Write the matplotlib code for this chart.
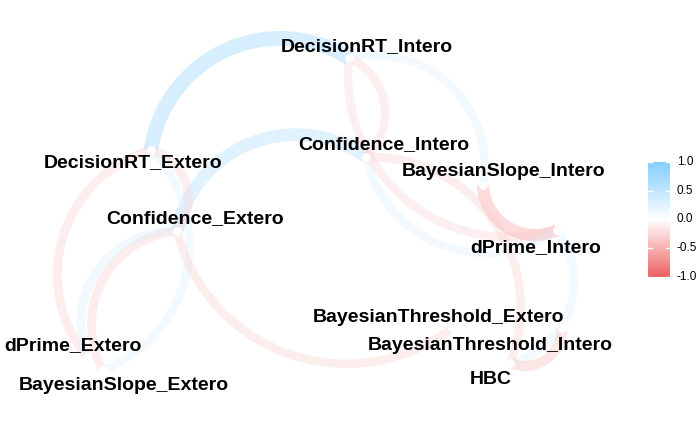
import matplotlib
matplotlib.use("Agg")
import matplotlib.pyplot as plt
import numpy as np
from matplotlib.colors import LinearSegmentedColormap

plt.rcParams['font.family'] = ['Liberation Sans', 'DejaVu Sans']

# Variables and their 2-D layout (MDS of the correlation matrix)
variables = ["DecisionRT_Intero", "Confidence_Intero", "BayesianSlope_Intero", "dPrime_Intero",
             "BayesianThreshold_Extero", "BayesianThreshold_Intero", "HBC",
             "DecisionRT_Extero", "Confidence_Extero", "dPrime_Extero", "BayesianSlope_Extero"]
layout_x = [-0.01, 0.16, 1.33, 2.07, 1.02, 2.12, 1.60, -1.99, -1.73, -2.63, -2.47]
layout_y = [1.58, 0.59, 0.31, -0.14, -1.12, -1.12, -1.47, 0.66, -0.15, -1.41, -1.54]

# Correlations drawn as paths (|r| >= 0.3)
edge_from = ["DecisionRT_Extero", "Confidence_Extero", "dPrime_Extero", "BayesianSlope_Extero",
             "dPrime_Extero", "DecisionRT_Extero", "DecisionRT_Extero", "BayesianThreshold_Extero",
             "DecisionRT_Intero", "dPrime_Intero", "DecisionRT_Intero", "dPrime_Intero",
             "dPrime_Intero", "dPrime_Intero", "Confidence_Intero", "BayesianThreshold_Intero"]
edge_to = ["DecisionRT_Intero", "Confidence_Intero", "DecisionRT_Extero", "Confidence_Extero",
           "Confidence_Extero", "BayesianSlope_Extero", "Confidence_Extero", "Confidence_Extero",
           "Confidence_Intero", "DecisionRT_Intero", "BayesianSlope_Intero", "BayesianSlope_Intero",
           "Confidence_Intero", "HBC", "HBC", "HBC"]
edge_r = [0.62, 0.52, -0.33, -0.33,
          0.33, 0.30, -0.32, -0.32,
          -0.31, -0.31, 0.30, -0.50,
          0.30, 0.30, -0.32, -0.40]

# label nudges (pixels) like ggrepel placement
label_dx = [18, 18, 21, -21, -14, -72, -19, -18, 18, -14, 21]
label_dy = [11, 12, 13, -18, 11, -18, -17, -13, 12, 11, -15]

cmap = LinearSegmentedColormap.from_list("corr", ["#EE6363", "#FFFFFF", "#87CEFF"])


def arc(x0, y0, x1, y1, k=0.27, n=80):
    dx, dy = x1 - x0, y1 - y0
    L = np.hypot(dx, dy)
    h = L / 2
    s = k * L
    R = (h * h + s * s) / (2 * s)
    nx, ny = -dy / L, dx / L  # bulge to the left of travel
    mx, my = (x0 + x1) / 2, (y0 + y1) / 2
    cx, cy = mx - nx * (R - s), my - ny * (R - s)
    a0 = np.arctan2(y0 - cy, x0 - cx)
    a1 = np.arctan2(y1 - cy, x1 - cx)
    da = (a1 - a0 + np.pi) % (2 * np.pi) - np.pi
    t = np.linspace(a0, a0 + da, n)
    return cx + R * np.cos(t), cy + R * np.sin(t)


fig = plt.figure(figsize=(7, 4.32), dpi=100)
ax = fig.add_axes([0, 0, 1, 1])
ax.set_xlim(-3.5, 3.5)
ax.set_ylim(-2.16, 2.16)
ax.axis("off")

pos = {v: (x, y) for v, x, y in zip(variables, layout_x, layout_y)}

for f, t, r in zip(edge_from, edge_to, edge_r):
    x0, y0 = pos[f]
    x1, y1 = pos[t]
    xs, ys = arc(x0, y0, x1, y1)
    ax.plot(xs, ys, color=cmap((r + 1) / 2), alpha=0.1 + 0.7 * abs(r),
            lw=1.6 + 14.5 * abs(r), solid_capstyle="butt", zorder=2)

ax.scatter(layout_x, layout_y, s=30, color="white", zorder=3)

for v, x, y, ddx, ddy in zip(variables, layout_x, layout_y, label_dx, label_dy):
    ax.annotate(v, (x, y), xytext=(ddx, ddy), textcoords="offset pixels",
                ha="center", va="center", fontsize=14, fontweight="bold",
                color="black", zorder=4)

# colour bar legend
cax = fig.add_axes([648 / 700, 1 - 277 / 432, 22 / 700, 115 / 432])
grad = np.linspace(-1, 1, 300).reshape(-1, 1)
cax.imshow(grad, cmap=cmap, vmin=-1, vmax=1, aspect="auto", origin="lower",
           extent=[0, 1, -1.0, 1.0])
cax.set_xlim(0, 1)
cax.set_ylim(-1.0, 1.0)
for v in [-1.0, -0.5, 0.0, 0.5, 1.0]:
    cax.plot([0, 0.2], [v, v], color="white", lw=1)
    cax.plot([0.8, 1], [v, v], color="white", lw=1)
    cax.text(1.3, v, f"{v:.1f}", ha="left", va="center", fontsize=8.5,
             color="black", transform=cax.transData, clip_on=False)
cax.axis("off")

fig.savefig("out.png", dpi=100)
